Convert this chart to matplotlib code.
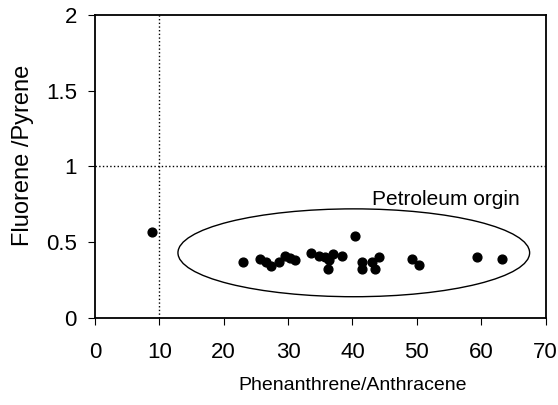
import matplotlib.pyplot as plt
from matplotlib.patches import Ellipse

# Phenanthrene/Anthracene vs Fluorene/Pyrene
phen_anth = [8.8, 23.0, 25.6, 26.5, 27.4, 28.6, 29.5, 30.3, 31.1, 33.6, 34.8,
             35.7, 36.2, 36.4, 37.0, 38.4, 40.4, 41.4, 41.4, 43.1, 43.5, 44.1,
             49.3, 50.3, 59.3, 63.2]
fluo_pyr = [0.57, 0.37, 0.39, 0.367, 0.34, 0.37, 0.41, 0.396, 0.385, 0.43, 0.41,
            0.405, 0.32, 0.38, 0.42, 0.41, 0.54, 0.367, 0.32, 0.37, 0.32, 0.405,
            0.39, 0.35, 0.405, 0.39]
x_ticks = [0, 10, 20, 30, 40, 50, 60, 70]
y_ticks = [0, 0.5, 1, 1.5, 2]
y_ticklabels = ['0', '0.5', '1', '1.5', '2']

plt.rcParams['font.family'] = ['Liberation Sans', 'DejaVu Sans']

fig = plt.figure(figsize=(5.58, 4.05), dpi=100)
ax = fig.add_axes([0.170, 0.215, 0.808, 0.748])

ax.scatter(phen_anth, fluo_pyr, s=40, color='black', zorder=3)

# Grenselinjer
ax.axvline(10, color='black', linestyle=':', linewidth=1)
ax.axhline(1, color='black', linestyle=':', linewidth=1)

ell = Ellipse((40.2, 0.43), 54.6, 0.58, fill=False, edgecolor='black', linewidth=1)
ax.add_patch(ell)
ax.text(43.1, 0.785, "Petroleum orgin", fontsize=15, va='center', ha='left')

ax.set_xlim(0, 70)
ax.set_ylim(0, 2)
ax.set_xticks(x_ticks)
ax.set_yticks(y_ticks)
ax.set_yticklabels(y_ticklabels)
ax.tick_params(labelsize=16, length=5, direction='out')
ax.tick_params(axis='x', pad=12)
ax.tick_params(axis='y', pad=8)

ax.set_xlabel("Phenanthrene/Anthracene", fontsize=14)
ax.xaxis.set_label_coords(0.572, -0.196)
ax.set_ylabel("Fluorene /Pyrene", fontsize=17)
ax.yaxis.set_label_coords(-0.136, 0.535)
for sp in ax.spines.values():
    sp.set_linewidth(1.3)

fig.savefig("out.png", dpi=100)
